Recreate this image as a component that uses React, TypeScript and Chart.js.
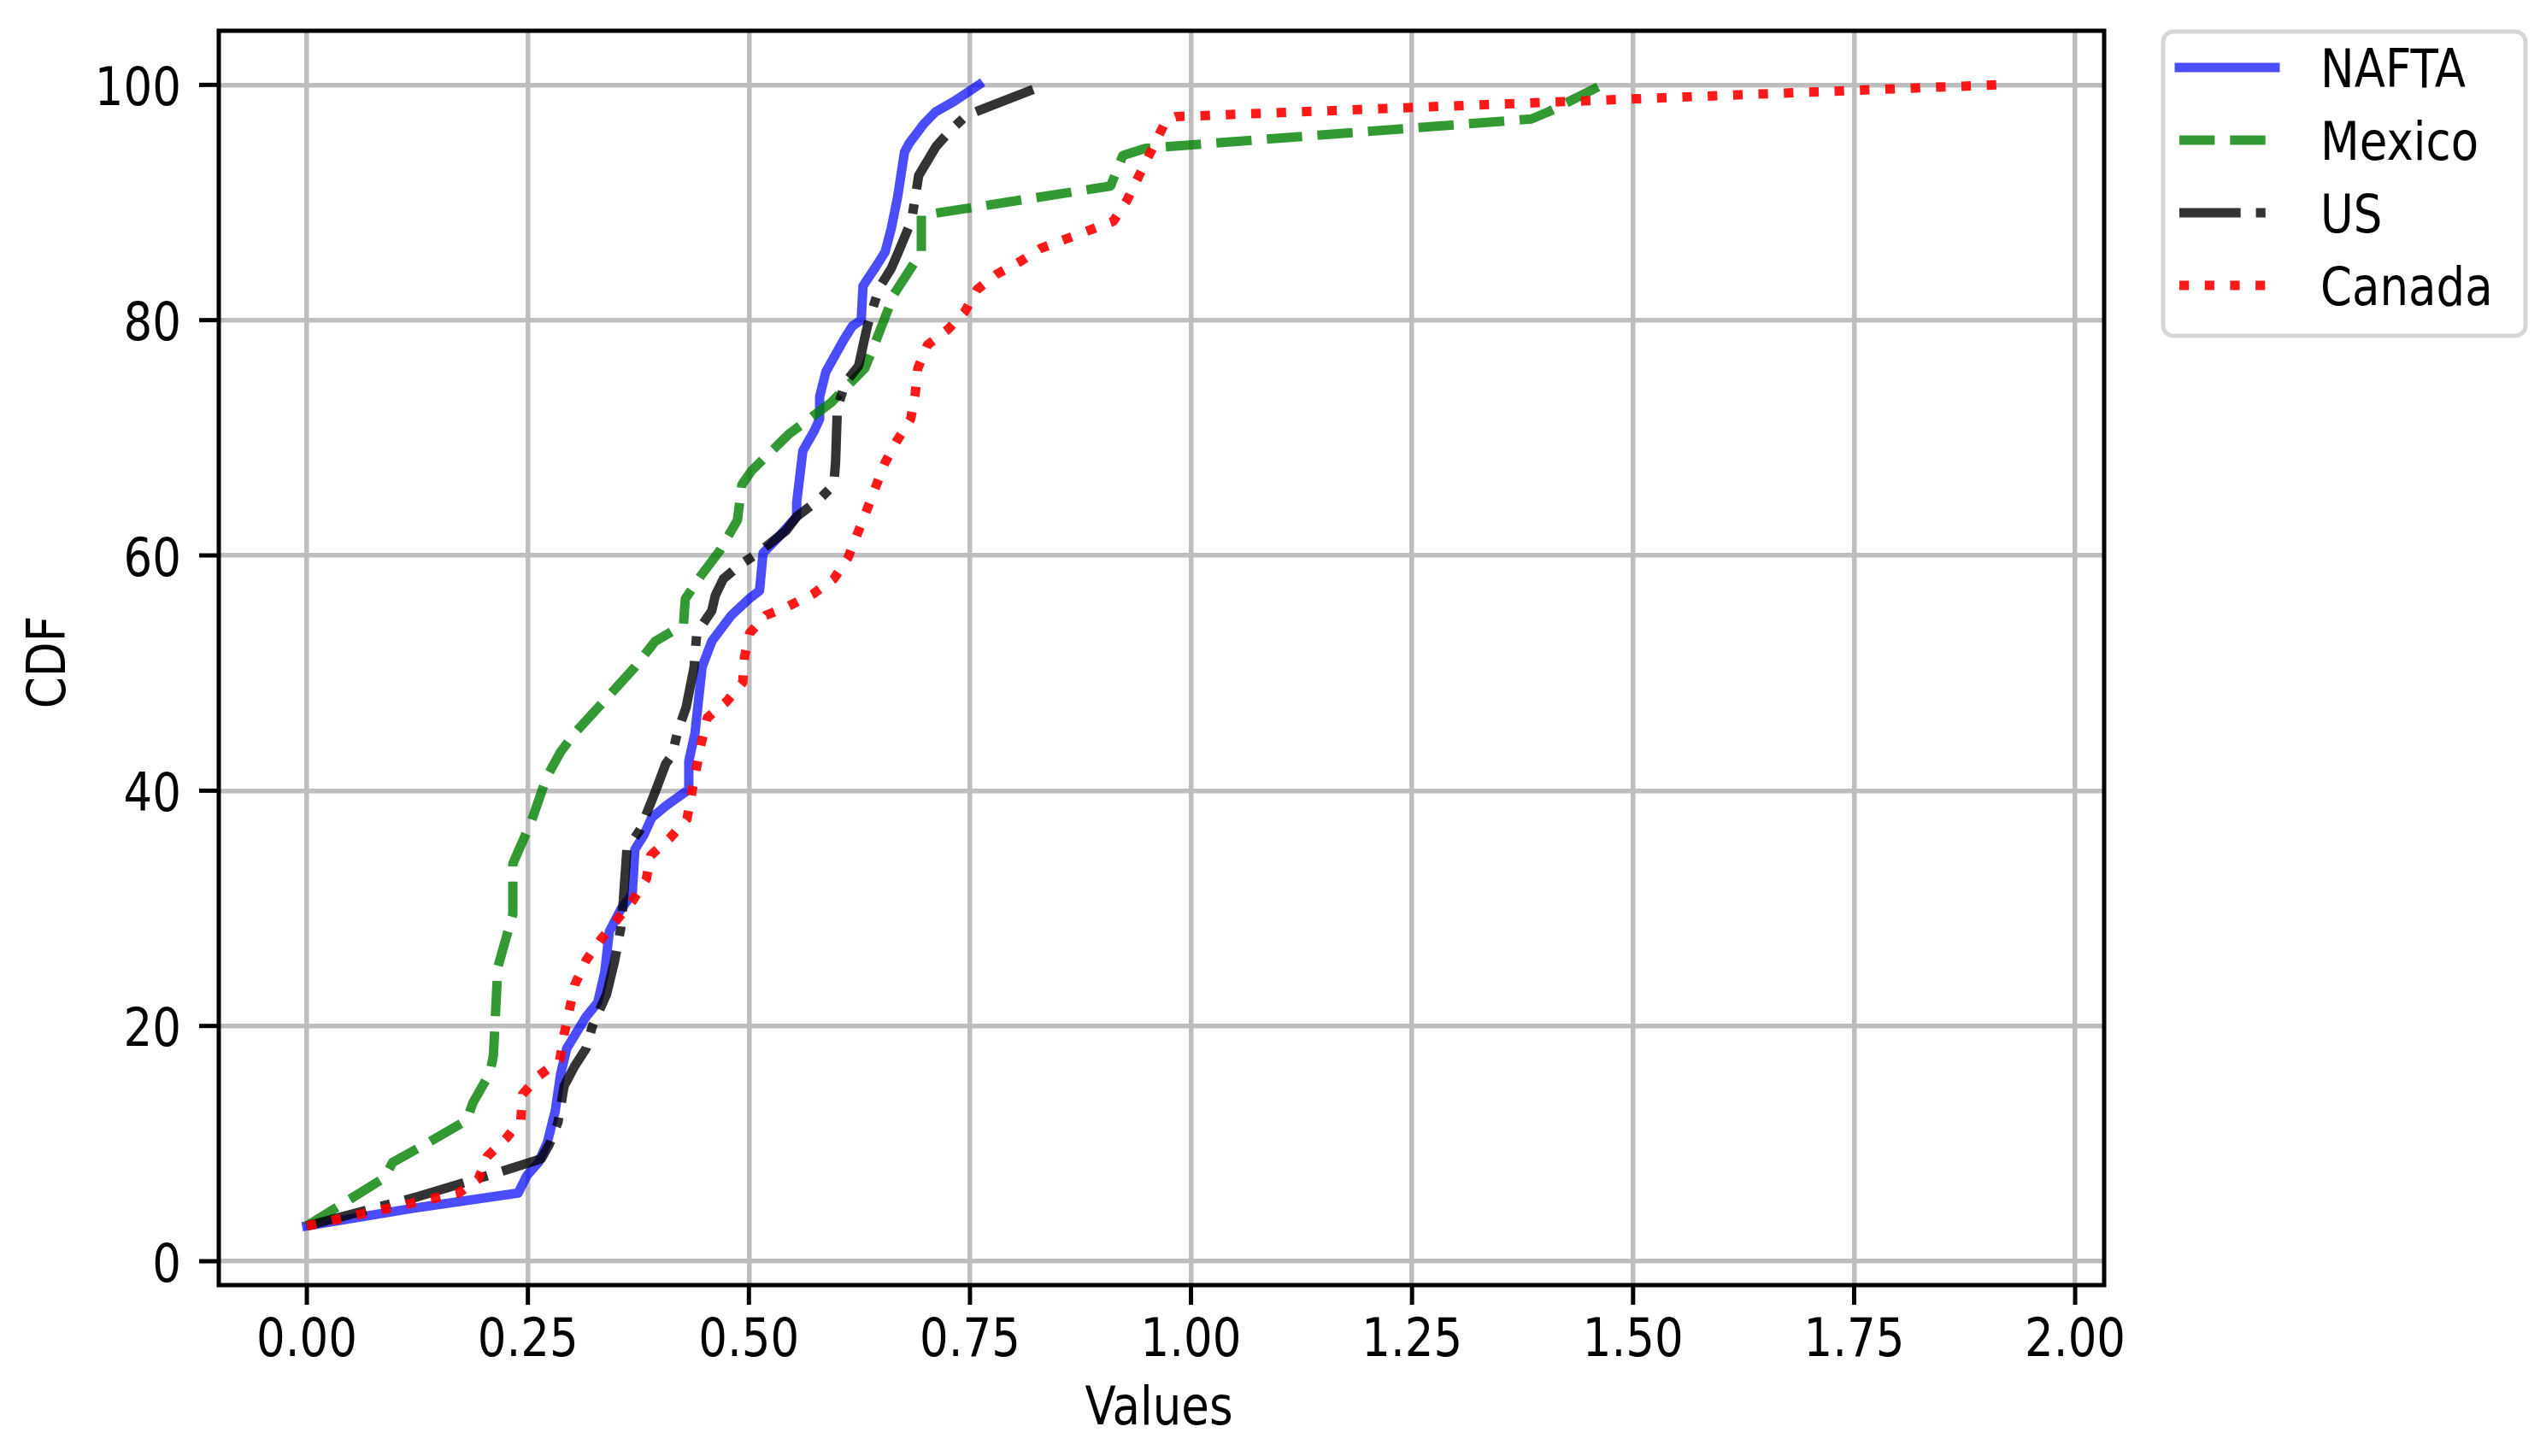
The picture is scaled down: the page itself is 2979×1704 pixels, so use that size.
import React, { useEffect, useRef } from "react";
import { Chart, registerables } from "chart.js";

Chart.register(...registerables);

const W = 2979;
const H = 1704;

// ---- tick values / labels ----
const xTickValues = [0, 0.25, 0.5, 0.75, 1.0, 1.25, 1.5, 1.75, 2.0];
const xTickLabels = ["0.00", "0.25", "0.50", "0.75", "1.00", "1.25", "1.50", "1.75", "2.00"];
const yTickValues = [0, 20, 40, 60, 80, 100];
const yTickLabels = ["0", "20", "40", "60", "80", "100"];
const seriesNames = ["NAFTA", "Mexico", "US", "Canada"];
const xAxisTitle = "Values";
const yAxisTitle = "CDF";

// ---- series (value, CDF %) ----
const naftaX = [0.0, 0.12, 0.239, 0.249, 0.262, 0.272, 0.281, 0.287, 0.294, 0.316, 0.329, 0.337, 0.342, 0.355, 0.368, 0.371, 0.381, 0.39, 0.406, 0.432, 0.432, 0.439, 0.447, 0.458, 0.48, 0.5, 0.512, 0.516, 0.529, 0.554, 0.554, 0.561, 0.574, 0.58, 0.58, 0.587, 0.607, 0.617, 0.627, 0.629, 0.644, 0.654, 0.661, 0.668, 0.676, 0.681, 0.698, 0.711, 0.732, 0.76];
const naftaY = [3.0, 4.5, 5.8, 7.3, 8.4, 10.1, 12.8, 15.9, 18.1, 20.8, 22.0, 24.6, 28.0, 29.9, 31.2, 35.0, 36.2, 37.7, 38.7, 40.1, 42.5, 44.9, 50.5, 52.7, 54.9, 56.3, 57.0, 60.2, 61.2, 63.3, 64.5, 68.9, 70.6, 71.6, 73.5, 75.6, 78.3, 79.5, 80.0, 82.9, 84.6, 85.8, 87.8, 90.4, 94.3, 95.0, 96.7, 97.7, 98.6, 100.0];

const mexicoX = [0.0, 0.088, 0.097, 0.133, 0.181, 0.188, 0.207, 0.211, 0.216, 0.233, 0.233, 0.254, 0.271, 0.287, 0.303, 0.342, 0.371, 0.394, 0.426, 0.428, 0.445, 0.467, 0.487, 0.492, 0.503, 0.545, 0.593, 0.631, 0.644, 0.664, 0.695, 0.695, 0.909, 0.923, 0.948, 1.385, 1.404, 1.465];
const mexicoY = [3.0, 7.1, 8.4, 9.9, 12.0, 13.5, 16.0, 17.5, 25.0, 29.5, 33.8, 37.4, 41.1, 43.3, 44.9, 48.1, 50.5, 52.7, 54.1, 56.3, 58.2, 60.4, 63.0, 66.0, 67.2, 70.3, 73.0, 75.9, 78.3, 82.2, 85.8, 88.9, 91.4, 94.0, 94.6, 97.1, 97.7, 100.0];

const usX = [0.0, 0.126, 0.223, 0.265, 0.274, 0.284, 0.291, 0.303, 0.316, 0.323, 0.339, 0.348, 0.355, 0.358, 0.362, 0.377, 0.394, 0.406, 0.413, 0.419, 0.429, 0.438, 0.441, 0.458, 0.462, 0.471, 0.49, 0.51, 0.542, 0.554, 0.58, 0.596, 0.598, 0.6, 0.609, 0.624, 0.634, 0.647, 0.661, 0.668, 0.684, 0.688, 0.692, 0.712, 0.729, 0.746, 0.773, 0.835];
const usY = [3.0, 5.5, 7.7, 8.7, 9.9, 11.8, 14.9, 16.6, 18.1, 20.0, 22.7, 25.5, 28.3, 30.7, 35.0, 36.7, 39.9, 42.3, 43.0, 44.9, 47.1, 50.5, 53.4, 55.3, 56.6, 58.0, 59.2, 60.2, 62.1, 63.3, 64.8, 66.0, 67.9, 72.5, 74.7, 76.1, 79.5, 82.7, 84.4, 85.6, 88.5, 90.4, 92.3, 94.8, 96.2, 97.4, 98.2, 100.0];

const canadaX = [0.0, 0.172, 0.194, 0.204, 0.226, 0.242, 0.244, 0.263, 0.286, 0.291, 0.303, 0.316, 0.332, 0.369, 0.384, 0.389, 0.411, 0.43, 0.435, 0.446, 0.453, 0.475, 0.493, 0.495, 0.501, 0.519, 0.545, 0.572, 0.596, 0.612, 0.633, 0.654, 0.667, 0.683, 0.688, 0.691, 0.702, 0.725, 0.744, 0.758, 0.78, 0.807, 0.83, 0.912, 0.927, 0.972, 0.983, 1.911];
const canadaY = [3.0, 5.8, 7.0, 8.9, 10.5, 12.0, 14.2, 15.8, 17.1, 19.3, 23.5, 25.6, 27.3, 30.7, 32.5, 34.5, 36.0, 37.6, 39.7, 44.0, 46.2, 47.6, 49.2, 51.4, 53.4, 54.9, 55.7, 56.7, 58.0, 59.8, 63.8, 67.9, 69.7, 71.6, 73.7, 75.9, 77.9, 79.2, 80.7, 82.6, 83.9, 85.0, 86.1, 88.4, 90.1, 97.0, 97.3, 100.0];

// ---- styles ----
const seriesColors = ["rgba(0,0,255,0.7)", "rgba(0,128,0,0.8)", "rgba(0,0,0,0.8)", "rgba(255,0,0,0.9)"];
const seriesDashes: number[][] = [[], [41.4, 17.9], [71.7, 17.9, 11.2, 17.9], [11.2, 18.5]];
const LW = 11;

const FONT_SIZE = 53;
const VSTRETCH = 1.165;
const FONT = `${FONT_SIZE}px "DejaVu Sans", "Liberation Sans", sans-serif`;

function pts(xs: number[], ys: number[]) {
  return xs.map((x, i) => ({ x, y: ys[i] }));
}

function drawText(ctx: CanvasRenderingContext2D, s: string, x: number, y: number, align: CanvasTextAlign, rot = 0) {
  ctx.save();
  ctx.translate(x, y);
  if (rot) ctx.rotate(rot);
  ctx.scale(1, VSTRETCH);
  ctx.font = FONT;
  ctx.fillStyle = "#000";
  ctx.textAlign = align;
  ctx.textBaseline = "alphabetic";
  ctx.fillText(s, 0, 0);
  ctx.restore();
}

const decorPlugin = {
  id: "decor",
  afterDatasetsDraw(chart: any) {
    const ctx: CanvasRenderingContext2D = chart.ctx;
    const a = chart.chartArea;
    const xs = chart.scales.x;
    const ys = chart.scales.y;
    ctx.save();
    // frame (spines)
    ctx.strokeStyle = "#000";
    ctx.lineWidth = 5;
    ctx.setLineDash([]);
    ctx.strokeRect(a.left, a.top, a.right - a.left, a.bottom - a.top);
    // tick marks
    ctx.lineCap = "butt";
    ctx.lineWidth = 5;
    xs.ticks.forEach((t: any) => {
      const px = xs.getPixelForValue(t.value);
      ctx.beginPath();
      ctx.moveTo(px, a.bottom);
      ctx.lineTo(px, a.bottom + 23);
      ctx.stroke();
    });
    ys.ticks.forEach((t: any) => {
      const py = ys.getPixelForValue(t.value);
      ctx.beginPath();
      ctx.moveTo(a.left - 23, py);
      ctx.lineTo(a.left, py);
      ctx.stroke();
    });
    ctx.restore();

    // tick labels
    xs.ticks.forEach((t: any, i: number) => {
      const px = xs.getPixelForValue(t.value);
      drawText(ctx, xTickLabels[i], px, a.bottom + 83, "center");
    });
    ys.ticks.forEach((t: any, i: number) => {
      const py = ys.getPixelForValue(t.value);
      drawText(ctx, yTickLabels[i], a.left - 44, py + 23.5, "right");
    });
    // axis titles
    drawText(ctx, xAxisTitle, (a.left + a.right) / 2 - 3, 1667, "center");
    drawText(ctx, yAxisTitle, 76, (a.top + a.bottom) / 2 + 5, "center", -Math.PI / 2);

    // legend
    ctx.save();
    const lx = 2531, ly = 37, lw = 424, lh = 356;
    ctx.beginPath();
    (ctx as any).roundRect(lx, ly, lw, lh, 12);
    ctx.fillStyle = "#ffffff";
    ctx.fill();
    ctx.strokeStyle = "#d6d6d6";
    ctx.lineWidth = 5;
    ctx.stroke();
    seriesNames.forEach((name, i) => {
      const cy = 79 + 85 * i;
      ctx.save();
      ctx.strokeStyle = seriesColors[i];
      ctx.lineWidth = LW;
      ctx.setLineDash(seriesDashes[i]);
      ctx.lineCap = seriesDashes[i].length ? "butt" : "square";
      ctx.beginPath();
      ctx.moveTo(2550, cy);
      ctx.lineTo(2662, cy);
      ctx.stroke();
      ctx.restore();
      drawText(ctx, name, 2715, 101.5 + 85 * i, "left");
    });
    ctx.restore();
  },
};

export default function App() {
  const ref = useRef<HTMLCanvasElement | null>(null);
  useEffect(() => {
    if (!ref.current) return;
    const seriesData = [pts(naftaX, naftaY), pts(mexicoX, mexicoY), pts(usX, usY), pts(canadaX, canadaY)];
    const chart = new Chart(ref.current, {
      type: "scatter",
      data: {
        datasets: seriesNames.map((name, i) => ({
          label: name,
          data: seriesData[i],
          showLine: true,
          borderColor: seriesColors[i],
          backgroundColor: seriesColors[i],
          borderWidth: LW,
          borderDash: seriesDashes[i],
          borderCapStyle: seriesDashes[i].length ? "butt" : "square",
          borderJoinStyle: "round",
          pointRadius: 0,
          pointHoverRadius: 0,
          tension: 0,
          fill: false,
          order: 4 - i,
        })) as any,
      },
      options: {
        responsive: false,
        animation: false,
        devicePixelRatio: 1,
        events: [],
        layout: { padding: { left: 256, top: 36, right: W - 2462, bottom: H - 1504 } },
        plugins: { legend: { display: false }, tooltip: { enabled: false }, title: { display: false } },
        scales: {
          x: {
            type: "linear",
            min: -0.0996,
            max: 2.0328,
            afterBuildTicks: (s: any) => {
              s.ticks = xTickValues.map((v) => ({ value: v }));
            },
            ticks: { display: false },
            grid: { color: "#bdbdbd", lineWidth: 5.5, drawTicks: false },
            border: { display: false },
          },
          y: {
            type: "linear",
            min: -2.03,
            max: 104.6,
            afterBuildTicks: (s: any) => {
              s.ticks = yTickValues.map((v) => ({ value: v }));
            },
            ticks: { display: false },
            grid: { color: "#bdbdbd", lineWidth: 5.5, drawTicks: false },
            border: { display: false },
          },
        },
      } as any,
      plugins: [decorPlugin],
    });
    return () => chart.destroy();
  }, []);
  return (
    <div style={{ position: "fixed", left: 0, top: 0, width: W, height: H, background: "#fff" }}>
      <canvas ref={ref} width={W} height={H} style={{ width: W, height: H, display: "block" }} />
    </div>
  );
}
